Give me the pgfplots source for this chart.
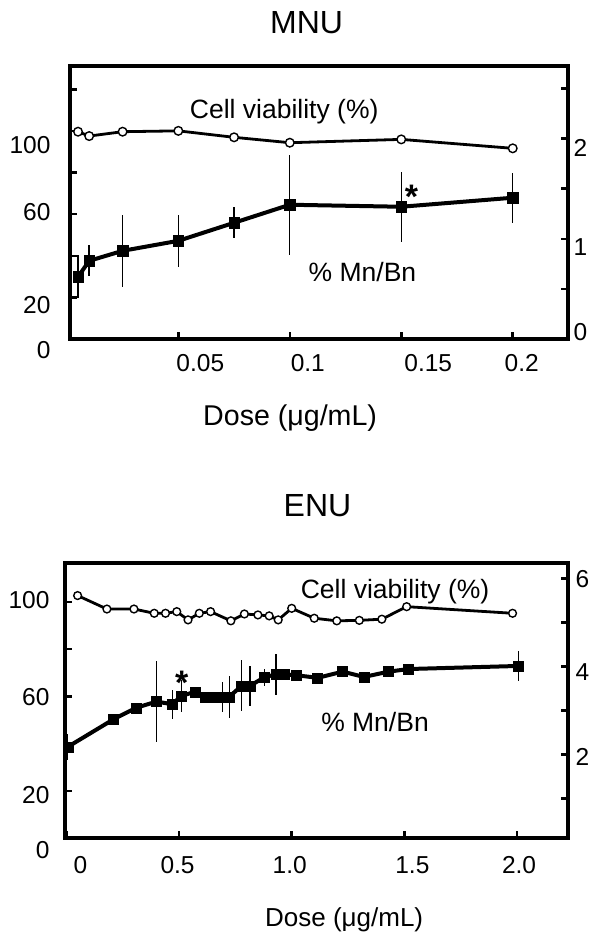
\documentclass[border=0pt]{standalone}
\usepackage{fontspec}
\setmainfont{Liberation Sans}
\usepackage{pgfplots}
\usepackage{pgfplotstable}
\pgfplotsset{compat=1.18}

% label helpers: vertical (up) and horizontal shift of single tick labels
\newcommand{\yl}[2]{\smash{\raisebox{\dimexpr#1-0.358em\relax}{#2}}}
\newcommand{\xl}[2]{\makebox[0pt]{\hspace*{#1}\hspace*{#1}#2}}

\pgfplotstableread{
x v
0.005 99.7
0.010 97.6
0.025 99.7
0.050 100.1
0.075 97.0
0.100 94.4
0.150 96.0
0.200 91.7
}\mnuvia
\pgfplotstableread{
x m e
0.005 0.62 0.215
0.010 0.78 0.155
0.025 0.88 0.36
0.050 0.98 0.26
0.075 1.16 0.155
0.100 1.34 0.50
0.150 1.32 0.35
0.200 1.41 0.25
}\mnumn
\pgfplotstableread{
x v
0.05 102.7
0.18 97.0
0.30 97.0
0.39 95.2
0.44 95.2
0.49 95.9
0.54 92.4
0.59 95.2
0.64 95.9
0.73 92.0
0.79 94.9
0.85 94.5
0.90 94.1
0.94 92.4
1.00 97.3
1.10 93.1
1.20 92.0
1.30 92.2
1.40 92.7
1.51 98.0
1.98 95.2
}\enuvia
\pgfplotstableread{
x m e
0.006 2.17 0.29
0.21 2.80 0
0.31 3.06 0
0.40 3.20 0.92
0.47 3.14 0.33
0.51 3.33 0.36
0.57 3.42 0
0.615 3.29 0
0.652 3.29 0
0.694 3.31 0.34
0.723 3.31 0.48
0.778 3.56 0.58
0.815 3.56 0.45
0.878 3.75 0.2
0.93 3.82 0.47
0.967 3.82 0
1.019 3.80 0
1.115 3.74 0
1.226 3.88 0
1.321 3.76 0
1.429 3.88 0
1.518 3.94 0
2.006 4.01 0.35
}\enumn

\pgfplotsset{
  panel/.style={
    anchor=south west, scale only axis, clip=false,
    axis line style={line width=4pt},
    tick align=inside, major tick length=7pt,
    tick style={black, line width=2.5pt},
    ticklabel style={font=\fontsize{24.5}{28}\selectfont},
  },
  via/.style={black, line width=2.8pt, mark=*, mark size=4.3pt,
    mark options={fill=white, draw=black, line width=1.4pt}},
  mn/.style={black, line width=4pt, mark=square*, mark size=5.3pt,
    mark options={fill=black, line width=0.4pt},
    error bars/y dir=both, error bars/y explicit, error bars/error mark=none,
    error bars/error bar style={line width=1.4pt}},
}
\tikzset{
  lab/.style={anchor=base, font=\fontsize{26.5}{30}\selectfont},
  star/.style={anchor=base, font=\fontsize{34}{38}\selectfont\bfseries},
}

\begin{document}
\begin{tikzpicture}
\useasboundingbox (0,0) rectangle (604pt,938pt);

% MNU, left axis: cell viability
\begin{axis}[panel,
  at={(70pt,599pt)}, width=498pt, height=273pt,
  xmin=0.0014, xmax=0.2248, ymin=0, ymax=131.3,
  xtick pos=bottom, ytick pos=left,
  xtick={0.05,0.1,0.15,0.2},
  xticklabels={\xl{22pt}{0.05},\xl{18pt}{0.1},\xl{27pt}{0.15},\xl{9pt}{0.2}},
  xticklabel style={yshift=-11.8pt},
  ytick={0,20,...,120},
  yticklabels={\yl{-11pt}{0},\yl{-7.6pt}{20},,\yl{2.5pt}{60},,\yl{-14pt}{100},},
  yticklabel style={xshift=-16pt},
  title={MNU},
  title style={at={(axis description cs:0.475,1)}, anchor=base, yshift=26pt,
    font=\fontsize{32}{36}\selectfont},
  xlabel={Dose (μg/mL)},
  xlabel style={at={(axis description cs:0.442,0)}, anchor=base, yshift=-86.6pt,
    font=\fontsize{28.6}{32}\selectfont},
]
\addplot[via] table[x=x, y=v] {\mnuvia};
\node[lab] at (axis cs:0.0975,106.1) {Cell viability (\%)};
\node[lab] at (axis cs:0.1326,27.5) {\% Mn/Bn};
\node[star] at (axis cs:0.1546,62.7) {*};
\end{axis}

% MNU, right axis: % Mn/Bn
\begin{axis}[panel,
  at={(70pt,599pt)}, width=498pt, height=273pt,
  xmin=0.0014, xmax=0.2248, ymin=0, ymax=2.725,
  hide x axis, axis y line*=right,
  ytick={0,0.5,1,1.5,2,2.5},
  yticklabels={\yl{7.6pt}{0},,\yl{-8pt}{1},,\yl{-9pt}{2},},
  yticklabel style={xshift=2pt},
]
\addplot[mn] table[x=x, y=m, y error=e] {\mnumn};
\end{axis}

% ENU, left axis: cell viability
\begin{axis}[panel,
  at={(65pt,100pt)}, width=503pt, height=275pt,
  xmin=-0.006, xmax=2.226, ymin=0, ymax=116.5,
  xtick pos=bottom, ytick pos=left,
  xtick={0,0.5,1,1.5,2},
  xticklabels={\xl{14pt}{0},\xl{-1.5pt}{0.5},\xl{-2pt}{1.0},\xl{8pt}{1.5},\xl{2pt}{2.0}},
  xticklabel style={yshift=-15pt},
  ytick={0,20,...,100},
  yticklabels={\yl{-12pt}{0},\yl{-4pt}{20},,\yl{0pt}{60},,\yl{2pt}{100}},
  yticklabel style={xshift=-12pt},
  title={ENU},
  title style={at={(axis description cs:0.502,1)}, anchor=base, yshift=40pt,
    font=\fontsize{32}{36}\selectfont},
  xlabel={Dose (μg/mL)},
  xlabel style={at={(axis description cs:0.555,0)}, anchor=base, yshift=-88pt,
    font=\fontsize{26}{30}\selectfont},
]
\addplot[via, mark size=3.9pt] table[x=x, y=v] {\enuvia};
\node[lab] at (axis cs:1.4585,101.6) {Cell viability (\%)};
\node[lab] at (axis cs:1.3697,45.0) {\% Mn/Bn};
\node[star] at (axis cs:0.512,60.7) {*};
\end{axis}

% ENU, right axis: % Mn/Bn
\begin{axis}[panel,
  at={(65pt,100pt)}, width=503pt, height=275pt,
  xmin=-0.006, xmax=2.226, ymin=0.1, ymax=6.35,
  hide x axis, axis y line*=right,
  ytick={1,2,3,4,5,6},
  yticklabels={,\yl{-2pt}{2},,\yl{-5pt}{4},,\yl{0pt}{6}},
  yticklabel style={xshift=4pt},
]
\addplot[mn, mark size=5pt] table[x=x, y=m, y error=e] {\enumn};
\end{axis}
\end{tikzpicture}
\end{document}
